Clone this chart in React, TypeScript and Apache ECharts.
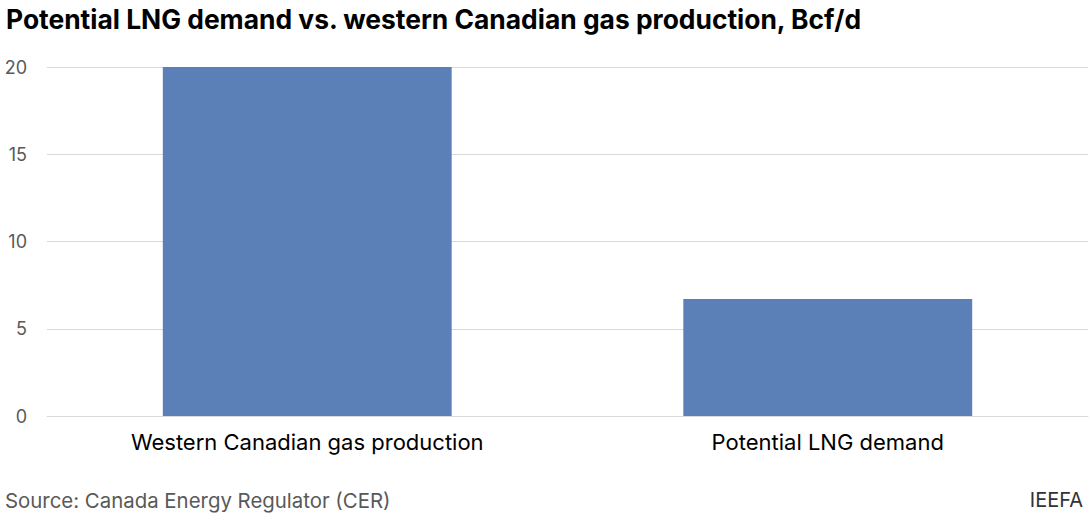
import {useEffect, useRef} from 'react';
import * as echarts from 'echarts';

const categories = ['Western Canadian gas production', 'Potential LNG demand'];
const values = [20, 6.7];
const yTicks = {min: 0, max: 20, interval: 5};

export default function App() {
    const ref = useRef<HTMLDivElement | null>(null);

    useEffect(() => {
        document.body.style.margin = '0';
        if (!ref.current) return;
        const chart = echarts.init(ref.current, null, {renderer: 'svg'});
        chart.setOption({
            animation: false,
            textStyle: {fontFamily: 'Inter'},
            title: [
                {
                    text: 'Potential LNG demand vs. western Canadian gas production, Bcf/d',
                    left: 1,
                    top: 1,
                    textStyle: {fontSize: 26.4, fontWeight: 'bold', color: '#000', fontFamily: 'Inter'}
                },
                {
                    text: 'Source: Canada Energy Regulator (CER)',
                    left: 0,
                    top: 485,
                    textStyle: {fontSize: 20.4, fontWeight: 'normal', color: '#595959', fontFamily: 'Inter'}
                },
                {
                    text: 'IEEFA',
                    right: 2,
                    top: 485,
                    textStyle: {fontSize: 20, fontWeight: 'normal', color: '#333', fontFamily: 'Inter'}
                }
            ],
            grid: {left: 47, right: 2, top: 67, bottom: 104, containLabel: false},
            xAxis: {
                type: 'category',
                data: categories,
                axisLine: {show: true, lineStyle: {color: '#d9d9d9'}},
                axisTick: {show: false},
                axisLabel: {fontSize: 22, color: '#000', margin: 15}
            },
            yAxis: {
                type: 'value',
                min: yTicks.min,
                max: yTicks.max,
                interval: yTicks.interval,
                axisLine: {show: false},
                axisTick: {show: false},
                splitLine: {lineStyle: {color: '#d9d9d9'}},
                axisLabel: {fontSize: 18, color: '#595959', margin: 20}
            },
            series: [
                {
                    type: 'bar',
                    data: values,
                    barWidth: '55.5%',
                    itemStyle: {color: '#5b80b8'}
                }
            ]
        });
        return () => chart.dispose();
    }, []);

    return <div ref={ref} style={{width: 1090, height: 520}}/>;
}
